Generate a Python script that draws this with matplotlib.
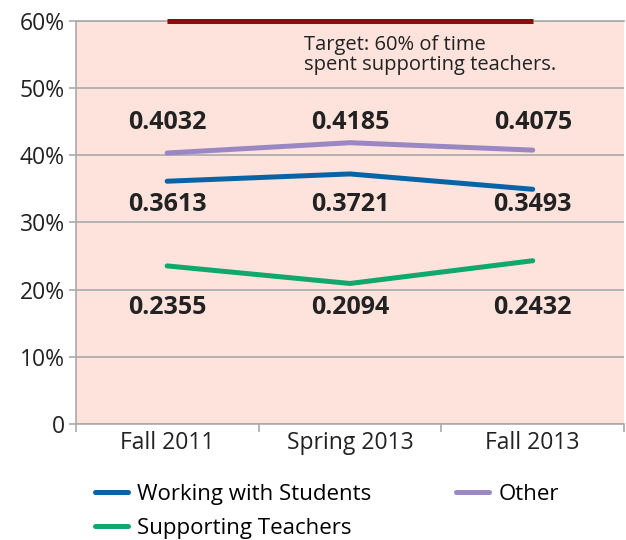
import matplotlib
matplotlib.use("Agg")
import matplotlib.pyplot as plt
from matplotlib.ticker import FuncFormatter

# data
periods = ["Fall 2011", "Spring 2013", "Fall 2013"]
working = [0.3613, 0.3721, 0.3493]
other = [0.4032, 0.4185, 0.4075]
supporting = [0.2355, 0.2094, 0.2432]
target = [0.60, 0.60, 0.60]

plt.rcParams['font.family'] = ['Open Sans', 'DejaVu Sans']

fig = plt.figure(figsize=(6.26, 5.4), dpi=100)
ax = fig.add_axes([0.121, 0.214, 0.876, 0.748])
ax.set_facecolor('#fde3dc')

x = list(range(len(periods)))
ax.axhline(0.6, color='#aaaaaa', lw=1.2, zorder=2, clip_on=False)
ax.plot(x, target, color='#8b0c0c', lw=3.6, solid_capstyle='butt', zorder=3, clip_on=False)
l1, = ax.plot(x, working, color='#0a64a4', lw=3.6, solid_capstyle='round', label='Working with Students', zorder=3)
l2, = ax.plot(x, other, color='#9b87c4', lw=3.6, solid_capstyle='round', label='Other', zorder=3)
l3, = ax.plot(x, supporting, color='#10a86c', lw=3.6, solid_capstyle='round', label='Supporting Teachers', zorder=3)

# value labels sit in fixed rows, like the original
rows = [(other, 0.449), (working, 0.327), (supporting, 0.174)]
for vals, ypos in rows:
    for xi, v in zip(x, vals):
        ax.text(xi, ypos, f"{v:.4f}", ha='center', va='center', fontsize=18,
                fontweight='bold', color='#222222')

ax.text(0.75, 0.578, "Target: 60% of time\nspent supporting teachers.", fontsize=14.5,
        color='#222222', va='top', ha='left', linespacing=1.0)

ax.set_xlim(-0.5, 2.5)
ax.set_ylim(0, 0.6)
ax.set_yticks([0, 0.1, 0.2, 0.3, 0.4, 0.5, 0.6])
ax.yaxis.set_major_formatter(FuncFormatter(lambda v, p: "0" if v == 0 else f"{v*100:.0f}%"))
ax.set_xticks(x)
ax.set_xticklabels(periods)
ax.set_xticks([-0.5, 0.5, 1.5, 2.5], minor=True)
ax.tick_params(axis='x', which='major', length=0, labelsize=16.5, pad=5, labelcolor='#222222')
ax.tick_params(axis='x', which='minor', length=6, color='#aaaaaa', width=1.2)
ax.tick_params(axis='y', length=5, color='#aaaaaa', width=1.2, labelsize=16.5, labelcolor='#222222', pad=3)
ax.grid(axis='y', color='#aaaaaa', lw=1.2, zorder=1)
ax.set_axisbelow(True)
for s in ['left', 'bottom']:
    ax.spines[s].set_color('#aaaaaa')
    ax.spines[s].set_linewidth(1.2)
ax.spines['top'].set_visible(False)
ax.spines['right'].set_visible(False)

fig.legend(handles=[l1, l3, l2], loc='lower left', bbox_to_anchor=(0.12, -0.035), ncol=2,
           frameon=False, fontsize=16, handlelength=1.5, columnspacing=3.8,
           handletextpad=0.4, labelspacing=0.6)

fig.savefig("out.png", dpi=100)
